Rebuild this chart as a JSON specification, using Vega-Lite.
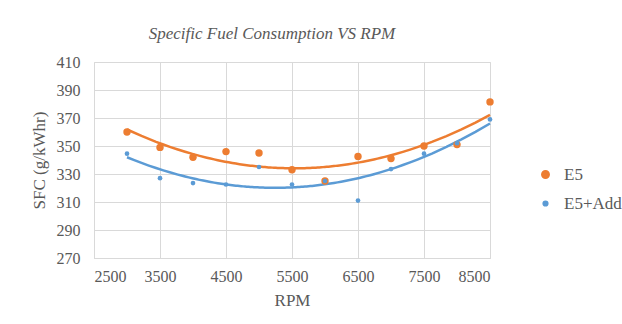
{
  "$schema": "https://vega.github.io/schema/vega-lite/v6.json",
  "width": 396,
  "height": 196,
  "autosize": "none",
  "padding": {"left": 94, "top": 62, "right": 132, "bottom": 66},
  "background": "white",
  "config": {"font": "Liberation Serif"},
  "title": {
    "text": "Specific Fuel Consumption VS RPM",
    "font": "Liberation Serif",
    "fontSize": 17,
    "fontStyle": "italic",
    "fontWeight": "normal",
    "color": "#595959",
    "anchor": "middle",
    "dx": -20,
    "offset": 11
  },
  "data": {
    "values": [
      {"RPM": 3000, "SFC": 360, "Series": "E5"},
      {"RPM": 3500, "SFC": 349, "Series": "E5"},
      {"RPM": 4000, "SFC": 342, "Series": "E5"},
      {"RPM": 4500, "SFC": 346, "Series": "E5"},
      {"RPM": 5000, "SFC": 345, "Series": "E5"},
      {"RPM": 5500, "SFC": 333, "Series": "E5"},
      {"RPM": 6000, "SFC": 325, "Series": "E5"},
      {"RPM": 6500, "SFC": 342.5, "Series": "E5"},
      {"RPM": 7000, "SFC": 341, "Series": "E5"},
      {"RPM": 7500, "SFC": 350, "Series": "E5"},
      {"RPM": 8000, "SFC": 351, "Series": "E5"},
      {"RPM": 8500, "SFC": 381.5, "Series": "E5"},
      {"RPM": 3000, "SFC": 344.5, "Series": "E5+Add"},
      {"RPM": 3500, "SFC": 327, "Series": "E5+Add"},
      {"RPM": 4000, "SFC": 323.5, "Series": "E5+Add"},
      {"RPM": 4500, "SFC": 322.5, "Series": "E5+Add"},
      {"RPM": 5000, "SFC": 335, "Series": "E5+Add"},
      {"RPM": 5500, "SFC": 322.5, "Series": "E5+Add"},
      {"RPM": 6000, "SFC": 325, "Series": "E5+Add"},
      {"RPM": 6500, "SFC": 311, "Series": "E5+Add"},
      {"RPM": 7000, "SFC": 333.5, "Series": "E5+Add"},
      {"RPM": 7500, "SFC": 344.5, "Series": "E5+Add"},
      {"RPM": 8000, "SFC": 352, "Series": "E5+Add"},
      {"RPM": 8500, "SFC": 369, "Series": "E5+Add"}
    ]
  },
  "encoding": {
    "x": {
      "field": "RPM",
      "type": "quantitative",
      "scale": {"domain": [2500, 8500], "nice": false, "zero": false},
      "axis": {
        "title": "RPM",
        "values": [2500, 3500, 4500, 5500, 6500, 7500, 8500],
        "format": "d",
        "labelFont": "Liberation Serif",
        "labelFontSize": 16,
        "labelColor": "#595959",
        "labelPadding": 10,
        "titleFont": "Liberation Serif",
        "titleFontSize": 17,
        "titleFontWeight": "normal",
        "titleColor": "#595959",
        "titlePadding": 8,
        "ticks": false,
        "domainColor": "#d9d9d9",
        "gridColor": "#d9d9d9",
        "grid": true
      }
    },
    "y": {
      "field": "SFC",
      "type": "quantitative",
      "scale": {"domain": [270, 410], "nice": false, "zero": false},
      "axis": {
        "title": "SFC (g/kWhr)",
        "values": [270, 290, 310, 330, 350, 370, 390, 410],
        "labelFont": "Liberation Serif",
        "labelFontSize": 16,
        "labelColor": "#595959",
        "labelPadding": 14,
        "titleFont": "Liberation Serif",
        "titleFontSize": 17,
        "titleFontWeight": "normal",
        "titleColor": "#595959",
        "titlePadding": 8,
        "ticks": false,
        "domain": false,
        "gridColor": "#d9d9d9",
        "grid": true
      }
    },
    "color": {
      "field": "Series",
      "type": "nominal",
      "scale": {"domain": ["E5", "E5+Add"], "range": ["#ED7D31", "#5B9BD5"]},
      "legend": {
        "title": null,
        "orient": "none",
        "legendX": 443,
        "legendY": 104,
        "padding": 0,
        "rowPadding": 11,
        "labelFont": "Liberation Serif",
        "labelFontSize": 17,
        "labelColor": "#595959",
        "labelOffset": 10,
        "labelLimit": 200,
        "symbolType": "circle"
      }
    }
  },
  "layer": [
    {
      "transform": [
        {"regression": "SFC", "on": "RPM", "groupby": ["Series"], "method": "poly", "order": 2, "extent": [3000, 8500]}
      ],
      "mark": {"type": "line", "strokeWidth": 2.5},
      "encoding": {}
    },
    {
      "mark": {"type": "point", "filled": true, "opacity": 1},
      "encoding": {
        "size": {
          "field": "Series",
          "type": "nominal",
          "scale": {"domain": ["E5", "E5+Add"], "range": [55, 22]},
          "legend": {
            "title": null,
            "orient": "none",
            "legendX": 443,
            "legendY": 104,
            "padding": 0,
            "rowPadding": 11,
            "labelFont": "Liberation Serif",
            "labelFontSize": 17,
            "labelColor": "#595959",
            "labelOffset": 10,
            "labelLimit": 200,
            "symbolType": "circle"
          }
        }
      }
    }
  ]
}
